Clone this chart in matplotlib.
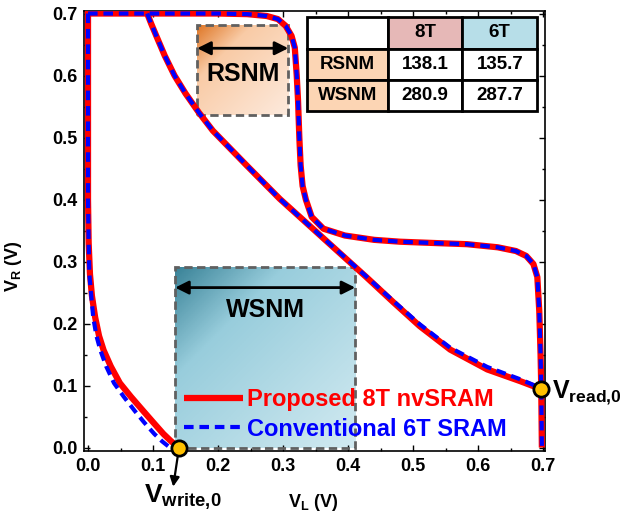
import numpy as np
import matplotlib
matplotlib.use('Agg')
import matplotlib.pyplot as plt
from matplotlib.colors import LinearSegmentedColormap
from matplotlib.patches import Rectangle

plt.rcParams['font.family'] = ['Liberation Sans', 'DejaVu Sans']
plt.rcParams['font.weight'] = 'bold'
plt.rcParams['mathtext.fontset'] = 'custom'
plt.rcParams['mathtext.bf'] = 'Liberation Sans:bold'
plt.rcParams['mathtext.rm'] = 'Liberation Sans:bold'
plt.rcParams['mathtext.default'] = 'bf'

# 8T nvSRAM (red) - three branches of the butterfly curves
red_a_x = [0.0, 0.20, 0.245, 0.275, 0.292, 0.304, 0.313, 0.318, 0.321, 0.323, 0.325, 0.327, 0.330,
           0.335, 0.344, 0.362, 0.395, 0.440, 0.480, 0.530, 0.583, 0.630, 0.658, 0.674, 0.685,
           0.691, 0.694, 0.696, 0.697, 0.698]
red_a_y = [0.70, 0.70, 0.699, 0.696, 0.691, 0.680, 0.664, 0.645, 0.600, 0.560, 0.500, 0.455, 0.422,
           0.400, 0.372, 0.353, 0.342, 0.335, 0.332, 0.330, 0.328, 0.323, 0.317, 0.309, 0.296,
           0.275, 0.220, 0.150, 0.100, 0.0]
red_b_x = [0.0, 0.0, 0.001, 0.003, 0.006, 0.011, 0.017, 0.024, 0.035, 0.049, 0.066, 0.085, 0.100,
           0.116, 0.128, 0.140]
red_b_y = [0.70, 0.40, 0.33, 0.28, 0.245, 0.21, 0.18, 0.157, 0.131, 0.104, 0.082, 0.059, 0.041,
           0.022, 0.010, 0.0]
red_c_x = [0.091, 0.097, 0.105, 0.118, 0.133, 0.150, 0.170, 0.192, 0.244, 0.295, 0.352, 0.429,
           0.470, 0.510, 0.557, 0.614, 0.665, 0.685, 0.697]
red_c_y = [0.700, 0.684, 0.664, 0.632, 0.600, 0.571, 0.541, 0.511, 0.455, 0.401, 0.347, 0.274,
           0.234, 0.196, 0.158, 0.126, 0.107, 0.099, 0.094]

# 6T SRAM (blue)
blue_a_x = red_a_x
blue_a_y = red_a_y
blue_b_x = [0.0, 0.0, 0.001, 0.002, 0.005, 0.008, 0.013, 0.019, 0.028, 0.040, 0.055, 0.072, 0.086,
            0.102, 0.114, 0.126]
blue_b_y = red_b_y
blue_c_x = red_c_x
blue_c_y = [0.700, 0.684, 0.664, 0.632, 0.600, 0.571, 0.541, 0.511, 0.455, 0.401, 0.347, 0.275,
            0.236, 0.199, 0.161, 0.130, 0.110, 0.101, 0.095]

write_pt = (0.140, 0.0)
read_pt = (0.697, 0.094)

# table values
tbl_cols = ['', '8T', '6T']
tbl_rows = ['RSNM', 'WSNM']
tbl_8t = ['138.1', '280.9']
tbl_6t = ['135.7', '287.7']

# annotation boxes (data coords)
rsnm_box = (0.168, 0.308, 0.537, 0.682)
wsnm_box = (0.134, 0.411, 0.0, 0.291)

fig = plt.figure(figsize=(6.23, 5.16), dpi=100)
ax = fig.add_axes([0.135, 0.1266, 0.74, 0.852])


def grad_box(box, c_dark, c_mid, c_light, text_y):
    x0, x1, y0, y1 = box
    cmap = LinearSegmentedColormap.from_list('g', [(0, c_dark), (0.3, c_mid), (1, c_light)])
    n = 100
    ii, jj = np.mgrid[0:n, 0:n]
    g = (ii + jj) / (2.0 * (n - 1))
    ax.imshow(g, cmap=cmap, extent=(x0, x1, y0, y1), origin='upper', aspect='auto',
              zorder=1, vmin=0, vmax=1)
    ax.add_patch(Rectangle((x0, y0), x1 - x0, y1 - y0, fill=False, ec='#606060', lw=2,
                           ls=(0, (3, 1.6)), zorder=2, clip_on=False))
    ax.annotate('', xy=(x0, text_y), xytext=(x1, text_y),
                arrowprops=dict(arrowstyle='<|-|>', color='black', lw=2, mutation_scale=20,
                                shrinkA=0, shrinkB=0), zorder=2)
    return (x0 + x1) / 2


cx = grad_box(rsnm_box, '#DF7727', '#F9CBA6', '#FDEADD', 0.644)
ax.text(cx, 0.602, 'RSNM', ha='center', va='center', fontsize=18, fontweight='bold', zorder=2)
cx = grad_box(wsnm_box, '#3A8398', '#98CDDC', '#D2EAF1', 0.258)
ax.text(cx, 0.222, 'WSNM', ha='center', va='center', fontsize=18, fontweight='bold', zorder=2)

dash = (0, (2.3, 1.4))
ax.plot(red_a_x, red_a_y, color='red', lw=4.5, zorder=3, solid_capstyle='butt',
        label='Proposed 8T nvSRAM')
ax.plot(red_b_x, red_b_y, color='red', lw=4.5, zorder=3)
ax.plot(red_c_x, red_c_y, color='red', lw=4.5, zorder=3)
ax.plot(blue_a_x, blue_a_y, color='blue', lw=3, ls=dash, zorder=4,
        label='Conventional 6T SRAM')
ax.plot(blue_b_x, blue_b_y, color='blue', lw=3, ls=dash, zorder=4)
ax.plot(blue_c_x, blue_c_y, color='blue', lw=3, ls=dash, zorder=4)

for pt in (write_pt, read_pt):
    ax.plot(pt[0], pt[1], 'o', ms=11, mfc='#FFC000', mec='black', mew=2, zorder=6,
            clip_on=False)

ax.annotate('', xy=(0.131, -0.063), xytext=write_pt, annotation_clip=False,
            arrowprops=dict(arrowstyle='-|>', color='black', lw=1.6, mutation_scale=14,
                            shrinkA=7, shrinkB=0))
ax.text(0.086, -0.089, r'$V_{write{,}0}$', fontsize=19, ha='left', va='baseline', clip_on=False)
ax.text(0.713, 0.080, r'$V_{read{,}0}$', fontsize=18, ha='left', va='baseline', clip_on=False)

leg = ax.legend(loc='lower left', bbox_to_anchor=(0.19, -0.004), frameon=False,
                handlelength=2.5, handletextpad=0.2, labelspacing=0.27, borderpad=0,
                labelcolor='linecolor', prop={'weight': 'bold', 'size': 17})
leg.set_zorder(5)

# table
cell_text = [[r, a, b] for r, a, b in zip(tbl_rows, tbl_8t, tbl_6t)]
tb = ax.table(cellText=[tbl_cols] + cell_text, bbox=[0.484, 0.772, 0.499, 0.214],
              colWidths=[81, 74, 75], cellLoc='center', zorder=7)
tb.auto_set_font_size(False)
fills = {(0, 1): '#E6B8B7', (0, 2): '#B7DEE8', (1, 0): '#FCD5B4', (2, 0): '#FCD5B4'}
for (r, c), cell in tb.get_celld().items():
    cell.set_linewidth(2)
    cell.set_facecolor(fills.get((r, c), 'white'))
    cell.get_text().set_fontsize(13.5)
    cell.get_text().set_fontweight('bold')

ax.set_xlim(-0.006, 0.703)
ax.set_ylim(-0.005, 0.704)
ax.set_xticks(np.arange(0, 0.71, 0.1))
ax.set_yticks(np.arange(0, 0.71, 0.1))
ax.set_xticks(np.arange(0.05, 0.7, 0.1), minor=True)
ax.set_yticks(np.arange(0.05, 0.7, 0.1), minor=True)
ax.set_xticklabels(['%.1f' % v for v in np.arange(0, 0.71, 0.1)])
ax.set_yticklabels(['%.1f' % v for v in np.arange(0, 0.71, 0.1)])
ax.tick_params(which='both', direction='in', top=True, right=True, labelsize=13, pad=5)
ax.tick_params(which='major', length=4, width=1)
ax.tick_params(which='minor', length=2.5, width=1)
for lbl in ax.get_xticklabels() + ax.get_yticklabels():
    lbl.set_fontweight('bold')
for s in ax.spines.values():
    s.set_linewidth(1.2)

ax.set_xlabel(r'$V_L$ (V)', fontsize=13, fontweight='bold')
ax.set_ylabel(r'$V_R$ (V)', fontsize=13, fontweight='bold')
ax.xaxis.set_label_coords(0.497, -0.095)
ax.yaxis.set_label_coords(-0.13, 0.42)

fig.savefig('out.png', dpi=100)
